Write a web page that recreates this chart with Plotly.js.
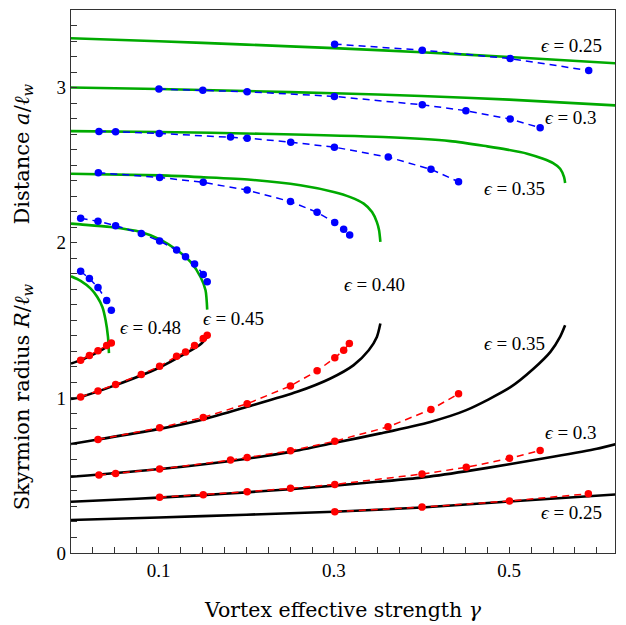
<!DOCTYPE html>
<html>
<head>
<meta charset="utf-8">
<script src="https://cdn.plot.ly/plotly-3.0.1.min.js"></script>
<style>html,body{margin:0;padding:0;background:#fff;}#chart{width:626px;height:625px;}</style>
</head>
<body>
<div id="chart"></div>
<script>
// ---- Theory: distance a (green) ----
const gA025 = [0, 0.1, 0.2, 0.3, 0.4, 0.5, 0.621];
const aTh025 = [3.318, 3.299, 3.277, 3.254, 3.228, 3.197, 3.157];
const gA030 = [0, 0.1, 0.2, 0.3, 0.4, 0.5, 0.621];
const aTh030 = [3.0, 2.991, 2.978, 2.963, 2.946, 2.922, 2.885];
const gA035 = [0, 0.1, 0.2162, 0.3563, 0.4327, 0.4749, 0.4977, 0.5205, 0.5387, 0.5501, 0.5581, 0.5626, 0.5638];
const aTh035 = [2.719, 2.714, 2.702, 2.681, 2.655, 2.621, 2.600, 2.574, 2.541, 2.513, 2.477, 2.423, 2.385];
const gA040 = [0, 0.102, 0.148, 0.205, 0.2617, 0.2997, 0.3187, 0.334, 0.3435, 0.349, 0.3515, 0.353];
const aTh040 = [2.445, 2.434, 2.423, 2.406, 2.370, 2.327, 2.294, 2.252, 2.198, 2.133, 2.080, 2.005];
const gA045 = [0, 0.011, 0.045, 0.0795, 0.102, 0.1212, 0.1364, 0.1478, 0.1535, 0.1554];
const aTh045 = [2.123, 2.118, 2.101, 2.069, 2.020, 1.951, 1.876, 1.779, 1.694, 1.569];
const gA048 = [0, 0.011, 0.0225, 0.030, 0.0358, 0.0395, 0.0422, 0.0433];
const aTh048 = [1.784, 1.754, 1.704, 1.650, 1.586, 1.500, 1.393, 1.288];

// ---- Simulation: distance a (blue) ----
const gS025 = [0.3008, 0.4008, 0.5011, 0.5907];
const aSim025 = [3.280, 3.241, 3.187, 3.110];
const gS030 = [0.1003, 0.1504, 0.2010, 0.3005, 0.4008, 0.4506, 0.5011, 0.5353];
const aSim030 = [2.990, 2.983, 2.973, 2.943, 2.889, 2.851, 2.797, 2.741];
const gS035 = [0.0319, 0.0509, 0.1007, 0.182, 0.201, 0.2507, 0.3005, 0.3620, 0.4107, 0.4422];
const aSim035 = [2.717, 2.715, 2.704, 2.681, 2.674, 2.648, 2.616, 2.552, 2.473, 2.393];
const gS040 = [0.0312, 0.1011, 0.1509, 0.201, 0.2504, 0.2808, 0.3009, 0.3111, 0.318];
const aSim040 = [2.451, 2.421, 2.389, 2.339, 2.265, 2.196, 2.131, 2.086, 2.050];
const gS045 = [0.011, 0.0308, 0.0509, 0.0802, 0.1011, 0.1205, 0.1307, 0.141, 0.1509, 0.1554];
const aSim045 = [2.157, 2.138, 2.110, 2.059, 2.011, 1.953, 1.910, 1.863, 1.795, 1.749];
const gS048 = [0.011, 0.021, 0.0308, 0.0407, 0.046];
const aSim048 = [1.816, 1.769, 1.711, 1.627, 1.565];

// ---- Theory: skyrmion radius R (black) ----
const gR025 = [0, 0.1, 0.2, 0.3, 0.4, 0.5, 0.621];
const rTh025 = [0.2125, 0.229, 0.247, 0.266, 0.293, 0.332, 0.377];
const gR030 = [0, 0.05, 0.1, 0.15, 0.2, 0.25, 0.3, 0.35, 0.4, 0.45, 0.5, 0.55, 0.6, 0.621];
const rTh030 = [0.330, 0.343, 0.357, 0.373, 0.391, 0.411, 0.434, 0.459, 0.486, 0.526, 0.572, 0.620, 0.672, 0.701];
const gR035 = [0, 0.102, 0.201, 0.2504, 0.301, 0.353, 0.41, 0.451, 0.501, 0.528, 0.547, 0.558, 0.5638];
const rTh035 = [0.491, 0.541, 0.608, 0.652, 0.710, 0.771, 0.845, 0.921, 1.067, 1.189, 1.296, 1.393, 1.468];
const gR040 = [0, 0.0308, 0.101, 0.151, 0.201, 0.258, 0.296, 0.3225, 0.3397, 0.349, 0.353];
const rTh040 = [0.702, 0.732, 0.800, 0.861, 0.942, 1.039, 1.125, 1.211, 1.307, 1.393, 1.479];
const gR045 = [0, 0.011, 0.0509, 0.1011, 0.1307, 0.1478, 0.1554];
const rTh045 = [0.992, 1.006, 1.082, 1.196, 1.286, 1.346, 1.392];
const gR048 = [0, 0.011, 0.021, 0.031, 0.040, 0.0445];
const rTh048 = [1.221, 1.243, 1.268, 1.297, 1.327, 1.352];

// ---- Simulation: skyrmion radius R (red) ----
const gQ025 = [0.301, 0.4005, 0.5003, 0.5903];
const rSim025 = [0.266, 0.296, 0.335, 0.382];
const gQ030 = [0.1011, 0.1509, 0.201, 0.2504, 0.301, 0.4005, 0.451, 0.5003, 0.5353];
const rSim030 = [0.359, 0.376, 0.395, 0.417, 0.442, 0.509, 0.552, 0.610, 0.661];
const gQ035 = [0.0319, 0.0509, 0.1011, 0.182, 0.201, 0.2504, 0.301, 0.3617, 0.4107, 0.4422];
const rSim035 = [0.502, 0.513, 0.541, 0.599, 0.616, 0.659, 0.721, 0.813, 0.925, 1.026];
const gQ040 = [0.0308, 0.1011, 0.1509, 0.201, 0.2504, 0.2808, 0.301, 0.3111, 0.3176];
const rSim040 = [0.732, 0.807, 0.874, 0.962, 1.077, 1.174, 1.258, 1.307, 1.350];
const gQ045 = [0.011, 0.0308, 0.0509, 0.0802, 0.1011, 0.1205, 0.1307, 0.141, 0.1509, 0.1554];
const rSim045 = [1.006, 1.045, 1.086, 1.151, 1.204, 1.268, 1.296, 1.337, 1.382, 1.404];
const gQ048 = [0.011, 0.021, 0.0308, 0.0407, 0.046];
const rSim048 = [1.243, 1.273, 1.303, 1.337, 1.354];

// ---- Labels ----
const epsLabels = ['0.25', '0.3', '0.35', '0.40', '0.45', '0.48', '0.35', '0.3', '0.25'];
const labelX = [0.5706, 0.5706, 0.5056, 0.346, 0.1855, 0.0908, 0.5056, 0.5706, 0.5706];
const labelY = [3.271, 2.807, 2.350, 1.732, 1.513, 1.455, 1.352, 0.779, 0.258];
const xTickVals = [0.1, 0.3, 0.5];
const yTickVals = [0, 1, 2, 3];

const GREEN = 'rgb(0,170,0)';
const FONT = 'Liberation Serif, DejaVu Serif, serif';
const TITLEFONT = 'DejaVu Serif, Liberation Serif, serif';

function theory(x, y, color) {
  return {x: x, y: y, mode: 'lines', type: 'scatter', hoverinfo: 'skip',
          line: {color: color, width: 2.6, shape: 'spline', smoothing: 0.7}};
}
function sim(x, y, color) {
  return {x: x, y: y, mode: 'lines+markers', type: 'scatter', hoverinfo: 'skip',
          line: {color: color, width: 1.5, dash: '7px,5px'},
          marker: {color: color, size: 7.5}};
}

const traces = [
  theory(gA025, aTh025, GREEN), theory(gA030, aTh030, GREEN), theory(gA035, aTh035, GREEN),
  theory(gA040, aTh040, GREEN), theory(gA045, aTh045, GREEN), theory(gA048, aTh048, GREEN),
  theory(gR025, rTh025, 'black'), theory(gR030, rTh030, 'black'), theory(gR035, rTh035, 'black'),
  theory(gR040, rTh040, 'black'), theory(gR045, rTh045, 'black'), theory(gR048, rTh048, 'black'),
  sim(gS025, aSim025, 'blue'), sim(gS030, aSim030, 'blue'), sim(gS035, aSim035, 'blue'),
  sim(gS040, aSim040, 'blue'), sim(gS045, aSim045, 'blue'), sim(gS048, aSim048, 'blue'),
  sim(gQ025, rSim025, 'red'), sim(gQ030, rSim030, 'red'), sim(gQ035, rSim035, 'red'),
  sim(gQ040, rSim040, 'red'), sim(gQ045, rSim045, 'red'), sim(gQ048, rSim048, 'red')
];

const annotations = epsLabels.map((t, i) => ({
  x: labelX[i], y: labelY[i], xref: 'x', yref: 'y', showarrow: false,
  xanchor: 'center', yanchor: 'middle',
  text: '<i>ϵ</i> = ' + t, font: {family: FONT, size: 19, color: 'black'}
}));
annotations.push({xref: 'paper', yref: 'paper', x: -0.088, y: 0.734, xanchor: 'center', yanchor: 'middle',
  showarrow: false, textangle: -90,
  text: 'Distance <i>a</i>/<i>ℓ</i><sub><i>w</i></sub>', font: {family: TITLEFONT, size: 21, color: 'black'}});
annotations.push({xref: 'paper', yref: 'paper', x: -0.088, y: 0.287, xanchor: 'center', yanchor: 'middle',
  showarrow: false, textangle: -90,
  text: 'Skyrmion radius <i>R</i>/<i>ℓ</i><sub><i>w</i></sub>', font: {family: TITLEFONT, size: 21, color: 'black'}});
annotations.push({xref: 'paper', yref: 'paper', x: 0.5, y: -0.105, xanchor: 'center', yanchor: 'middle',
  showarrow: false,
  text: 'Vortex effective strength <i>γ</i>', font: {family: TITLEFONT, size: 20.5, color: 'black'}});

const layout = {
  width: 626, height: 625,
  margin: {l: 71, r: 11, t: 10, b: 72},
  paper_bgcolor: 'white', plot_bgcolor: 'white',
  showlegend: false,
  font: {family: FONT, size: 19, color: 'black'},
  xaxis: {range: [0, 0.6207], tickvals: xTickVals, ticktext: xTickVals.map(v => v.toFixed(1)),
          ticks: 'inside', ticklen: 6, tickcolor: '#333', showgrid: false, zeroline: false,
          showline: true, linecolor: '#333', linewidth: 1.2, mirror: true,
          minor: {dtick: 0.025, tick0: 0, ticks: 'inside', ticklen: 6, tickcolor: '#333', showgrid: false},
          tickfont: {family: FONT, size: 19}},
  yaxis: {range: [0, 3.5], tickvals: yTickVals, ticks: 'inside', ticklen: 6, tickcolor: '#333',
          showgrid: false, zeroline: false, showline: true, linecolor: '#333', linewidth: 1.2, mirror: true,
          minor: {dtick: 0.1, tick0: 0, ticks: 'inside', ticklen: 6, tickcolor: '#333', showgrid: false},
          tickfont: {family: FONT, size: 19}},
  annotations: annotations
};

Plotly.newPlot('chart', traces, layout, {staticPlot: true, displayModeBar: false});
</script>
</body>
</html>
